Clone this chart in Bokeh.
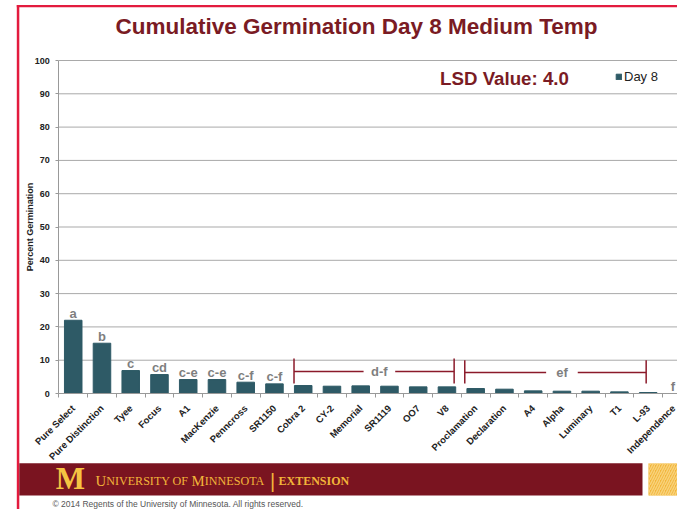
from bokeh.plotting import figure
from bokeh.models import (Range1d, FixedTicker, Label, BoxAnnotation, Legend, LegendItem,
                          ColumnDataSource)
from bokeh.core.properties import value
from bokeh.embed import file_html
from bokeh.resources import INLINE

# ---------------- data ----------------
categories = ["Pure Select", "Pure Distinction", "Tyee", "Focus", "A1", "MacKenzie",
              "Penncross", "SR1150", "Cobra 2", "CY-2", "Memorial", "SR1119", "OO7", "V8",
              "Proclamation", "Declaration", "A4", "Alpha", "Luminary", "T1", "L-93",
              "Independence"]
day8 = [22.0, 15.1, 6.9, 5.7, 4.2, 4.2, 3.4, 2.9, 2.4, 2.2, 2.3, 2.2, 2.0, 2.0,
        1.5, 1.3, 0.8, 0.7, 0.7, 0.5, 0.3, 0.0]
letters = ["a", "b", "c", "cd", "c-e", "c-e", "c-f", "c-f"] + [""] * 13 + ["f"]

bracket_labels = ["d-f", "ef"]
bracket_start = [7.68, 13.62]
bracket_end = [13.25, 19.93]
bracket_text_x = [10.65, 17.0]
bracket_y = [6.6, 6.3]
bracket_low = [3.0, 3.0]
bracket_high = [10.5, 10.0]

y_ticks = [0, 10, 20, 30, 40, 50, 60, 70, 80, 90, 100]

title_text = "Cumulative Germination Day 8 Medium Temp"
lsd_text = "LSD Value: 4.0"
series_name = "Day 8"

# ---------------- styles ----------------
MAROON = "#7a1b24"
BAR = "#2e5a66"
RED = "#e31b3e"
GOLD = "#f2b53a"
FONT = "Liberation Sans"
SERIF = "Liberation Serif"

W, H = 677, 509
X_START, X_END = -2.53, 21.02
Y_START, Y_END = -34.83, 118.02
LETTER_GAP = 2.1  # data units between bar top and the centre of its letter label


def SY(page_y):
    # screen units are measured from the bottom of the frame (frame == whole canvas)
    return H - page_y


def scr(**kw):
    return dict(left_units="screen", right_units="screen", top_units="screen",
                bottom_units="screen", **kw)


p = figure(width=W, height=H, x_range=Range1d(X_START, X_END),
           y_range=Range1d(Y_START, Y_END), output_backend="svg", toolbar_location=None,
           min_border=0, min_border_left=0, min_border_right=0, min_border_top=0,
           min_border_bottom=0)
p.outline_line_color = None
p.background_fill_color = "white"
p.border_fill_color = "white"
p.xgrid.grid_line_color = None
p.ygrid.grid_line_color = None

# horizontal grid lines (from the y axis to the right edge)
grid_y = [t for t in y_ticks if t > 0]
p.segment(x0=[-0.5] * len(grid_y), y0=grid_y, x1=[X_END] * len(grid_y), y1=grid_y,
          line_color="#a9a9a9", line_width=1)

# bars
idx = list(range(len(categories)))
label_y = [v + LETTER_GAP for v in day8]
src = ColumnDataSource(dict(x=idx, top=day8, ly=label_y, letters=letters, cat=categories))
bars = p.vbar(x="x", top="top", width=0.61, source=src, fill_color=BAR, line_color=BAR)

# letter labels (the last one sits at the cut right edge of the slide, nudged inside)
n_in = len(categories) - 1
src_in = ColumnDataSource(dict(x=idx[:n_in], ly=label_y[:n_in], letters=letters[:n_in]))
src_edge = ColumnDataSource(dict(x=idx[n_in:], ly=label_y[n_in:], letters=letters[n_in:]))
for s, xo in ((src_in, 0), (src_edge, -4)):
    p.text(x="x", y="ly", text="letters", source=s, text_align="center", x_offset=xo,
           text_baseline="middle", text_font=value(FONT),
           text_font_style="bold", text_font_size="13px", text_color="#7f7f7f")

# brackets
gap = 0.55
lx1 = [t - gap for t in bracket_text_x]
rx0 = [t + gap for t in bracket_text_x]
BR = "#8b1a2a"
p.segment(x0=bracket_start, y0=bracket_y, x1=lx1, y1=bracket_y, line_color=BR, line_width=1.5)
p.segment(x0=rx0, y0=bracket_y, x1=bracket_end, y1=bracket_y, line_color=BR, line_width=1.5)
p.segment(x0=bracket_start, y0=bracket_low, x1=bracket_start, y1=bracket_high,
          line_color=BR, line_width=1.5)
p.segment(x0=bracket_end, y0=bracket_low, x1=bracket_end, y1=bracket_high,
          line_color=BR, line_width=1.5)
p.text(x=bracket_text_x, y=bracket_y, text=bracket_labels, text_align="center",
       text_baseline="middle", text_font=value(FONT), text_font_style="bold",
       text_font_size="13px", text_color="#7f7f7f")

# axes (drawn at fixed locations inside the full-canvas frame)
xax = p.xaxis[0]
xax.fixed_location = 0
xax.bounds = (-0.5, X_END)
xax.ticker = FixedTicker(ticks=idx, minor_ticks=[i - 0.5 for i in range(len(categories) + 1)])
xax.major_label_overrides = {i: c for i, c in enumerate(categories)}
xax.major_label_orientation = 0.785398
xax.major_tick_out = 0
xax.major_tick_in = 0
xax.minor_tick_out = 4
xax.minor_tick_in = 0
xax.minor_tick_line_color = "#999999"
xax.axis_line_color = "#999999"
xax.major_label_standoff = 9
xax.major_label_text_font = FONT
xax.major_label_text_font_style = "bold"
xax.major_label_text_font_size = "9.5px"
xax.major_label_text_color = "#222222"

yax = p.yaxis[0]
yax.fixed_location = -0.5
yax.bounds = (0, 100)
yax.ticker = FixedTicker(ticks=y_ticks)
yax.major_tick_out = 3
yax.major_tick_in = 0
yax.minor_tick_out = 0
yax.minor_tick_in = 0
yax.major_tick_line_color = "#999999"
yax.axis_line_color = "#999999"
yax.major_label_standoff = 6
yax.major_label_text_font = FONT
yax.major_label_text_font_style = "bold"
yax.major_label_text_font_size = "9px"
yax.major_label_text_color = "#222222"
yax.axis_label = "Percent Germination"
yax.axis_label_text_font = FONT
yax.axis_label_text_font_style = "bold"
yax.axis_label_text_font_size = "9px"
yax.axis_label_text_color = "#222222"
yax.axis_label_standoff = -4

# legend
legend = Legend(items=[LegendItem(label=series_name, renderers=[bars])],
                location=(615, SY(84)), margin=0, padding=0, glyph_width=7, glyph_height=7,
                label_standoff=2, label_width=34, label_height=13, label_text_font=FONT,
                label_text_font_size="13px", label_text_color="#222222",
                background_fill_alpha=0, border_line_color=None)
p.add_layout(legend, "center")

# title & LSD
p.add_layout(Label(x=356, y=SY(26), x_units="screen", y_units="screen", text=title_text,
                   text_align="center", text_baseline="middle", text_font=FONT,
                   text_font_style="bold", text_font_size="22.5px", text_color=MAROON))
p.add_layout(Label(x=504, y=SY(77.7), x_units="screen", y_units="screen", text=lsd_text,
                   text_align="center", text_baseline="middle", text_font=FONT,
                   text_font_style="bold", text_font_size="18.7px", text_color=MAROON))

# slide decoration
p.add_layout(BoxAnnotation(**scr(left=16.3, right=W, top=SY(4.5), bottom=SY(6.7),
                                 fill_color=RED, fill_alpha=1, line_color=None)))
p.add_layout(BoxAnnotation(**scr(left=16.3, right=18.8, top=SY(4.5), bottom=0,
                                 fill_color=RED, fill_alpha=1, line_color=None)))
p.add_layout(BoxAnnotation(**scr(left=18.8, right=642, top=SY(462.7), bottom=SY(495),
                                 fill_color="#7a1420", fill_alpha=1, line_color=None)))
p.add_layout(BoxAnnotation(**scr(left=648, right=W, top=SY(463), bottom=SY(495),
                                 fill_color=GOLD, fill_alpha=1, line_color=None,
                                 hatch_pattern="right_diagonal_line", hatch_color="#f8d27a",
                                 hatch_scale=5, hatch_weight=1.5)))
p.add_layout(Label(x=70, y=SY(478), x_units="screen", y_units="screen", text="M",
                   text_align="center", text_baseline="middle", text_font=SERIF,
                   text_font_style="bold", text_font_size="31px", text_color="#f5c342"))

# "UNIVERSITY OF MINNESOTA" in small caps: large initials, smaller remaining letters
BIG, SMALL = 14.8, 12.1
sc_parts = [("U", 95.0, BIG), ("NIVERSITY OF ", 105.7, SMALL), ("M", 191.1, BIG),
            ("INNESOTA", 204.3, SMALL)]
for txt, xx, fs in sc_parts:
    p.add_layout(Label(x=xx, y=SY(485 - 0.3375 * fs), x_units="screen", y_units="screen",
                       text=txt, text_align="left", text_baseline="middle", text_font=SERIF,
                       text_font_size=f"{fs}px", text_color=GOLD))
p.add_layout(Label(x=272, y=SY(480), x_units="screen", y_units="screen", text="|",
                   text_align="center", text_baseline="middle", text_font=FONT,
                   text_font_size="20px", text_color=GOLD))
p.add_layout(Label(x=278, y=SY(480), x_units="screen", y_units="screen",
                   text="EXTENSION", text_align="left", text_baseline="middle",
                   text_font=SERIF, text_font_style="bold", text_font_size="12px",
                   text_color=GOLD))
p.add_layout(Label(x=52, y=SY(503), x_units="screen", y_units="screen",
                   text="\u00a9 2014 Regents of the University of Minnesota.  All rights reserved.",
                   text_align="left", text_baseline="middle", text_font=FONT,
                   text_font_size="8.5px", text_color="#555555"))

open("out.html", "w").write(file_html(p, INLINE))
